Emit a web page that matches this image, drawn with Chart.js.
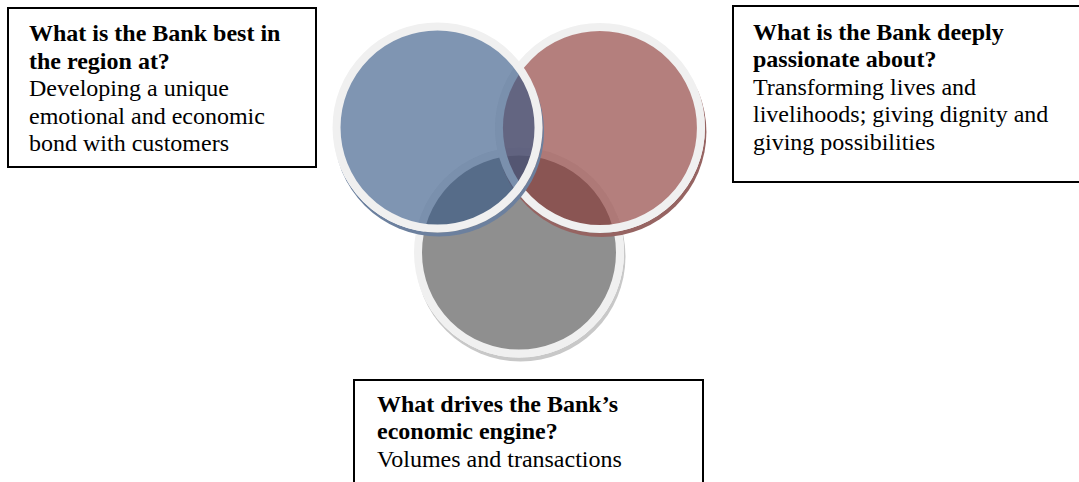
<!DOCTYPE html>
<html>
<head>
<meta charset="utf-8">
<script src="https://cdn.jsdelivr.net/npm/chart.js@4/dist/chart.umd.min.js"></script>
<style>
  html, body { margin: 0; padding: 0; background: #fff; overflow: hidden; }
  #wrap { position: relative; width: 1079px; height: 482px; }
  #venn { position: absolute; left: 0; top: 0; }
  .box {
    position: absolute; box-sizing: border-box; border: 2px solid #000; background: #fff;
    font-family: "Liberation Serif", "Times New Roman", serif; font-size: 24px;
    line-height: 27.6px; color: #000; white-space: nowrap;
  }
  .box .q { font-weight: bold; }
  #box0 { left: 7px;   top: 7px;   width: 310px; height: 161px; padding: 11px 0 0 20px; }
  #box1 { left: 732px; top: 5px;   width: 360px; height: 178px; padding: 11.5px 0 0 19px; }
  #box2 { left: 353px; top: 379px; width: 351px; height: 120px; padding: 9.5px 0 0 22px; }
</style>
</head>
<body>
<div id="wrap">
  <canvas id="venn" width="1079" height="482"></canvas>
  <div class="box" id="box0"></div>
  <div class="box" id="box1"></div>
  <div class="box" id="box2"></div>
</div>
<script>
// Three overlapping sets of the Hedgehog-style strategy diagram
const setNames   = ['Best in the region', 'Deeply passionate about', 'Economic engine'];
const questions  = [
  ['What is the Bank best in', 'the region at?'],
  ['What is the Bank deeply', 'passionate about?'],
  ['What drives the Bank\u2019s', 'economic engine?']
];
const answers    = [
  ['Developing a unique', 'emotional and economic', 'bond with customers'],
  ['Transforming lives and', 'livelihoods; giving dignity and', 'giving possibilities'],
  ['Volumes and transactions']
];
// circle centres on a 0-100 grid (x across, y down) and circle radius
const centreX    = [40.55, 55.6, 48.1];
const centreY    = [26.45, 26.55, 52.4];
const circleSize = [101, 101, 101];

const fills   = ['rgba(52,87,133,0.63)', 'rgba(135,50,47,0.625)', 'rgb(143,143,143)'];
const shadows = ['rgb(108,128,158)', 'rgb(150,100,98)', 'rgb(200,200,200)'];
const stackOrder = [0, 1, 2]; // lower draws on top

// question / answer text boxes
questions.forEach((q, i) => {
  const box = document.getElementById('box' + i);
  box.innerHTML = '<div class="q">' + q.join('<br>') + '</div><div>' + answers[i].join('<br>') + '</div>';
});

// soft offset shadow outside each ring
const ringShadow = {
  id: 'ringShadow',
  beforeDatasetDraw(chart, args) {
    const ds = chart.data.datasets[args.index];
    const ctx = chart.ctx;
    args.meta.data.forEach(el => {
      const outer = el.options.radius + el.options.borderWidth / 2;
      ctx.save();
      ctx.beginPath();
      ctx.rect(0, 0, chart.width, chart.height);
      ctx.arc(el.x, el.y, outer, 0, Math.PI * 2, true);
      ctx.clip('evenodd');
      ctx.beginPath();
      ctx.arc(el.x + 1.5, el.y + 4, outer, 0, Math.PI * 2);
      ctx.fillStyle = ds.shadowColor;
      ctx.fill();
      ctx.restore();
    });
  }
};

new Chart(document.getElementById('venn'), {
  type: 'bubble',
  data: {
    datasets: setNames.map((name, i) => ({
      label: name,
      data: [{ x: centreX[i], y: centreY[i], r: circleSize[i] }],
      backgroundColor: fills[i],
      borderColor: '#f0f0f0',
      borderWidth: 8,
      shadowColor: shadows[i],
      order: stackOrder[i],
      clip: false
    }))
  },
  options: {
    responsive: false,
    animation: false,
    events: [],
    layout: { padding: 0, autoPadding: false },
    plugins: { legend: { display: false }, tooltip: { enabled: false } },
    scales: {
      x: { type: 'linear', min: 0, max: 100, display: false },
      y: { type: 'linear', min: 0, max: 100, reverse: true, display: false }
    }
  },
  plugins: [ringShadow]
});
</script>
</body>
</html>
